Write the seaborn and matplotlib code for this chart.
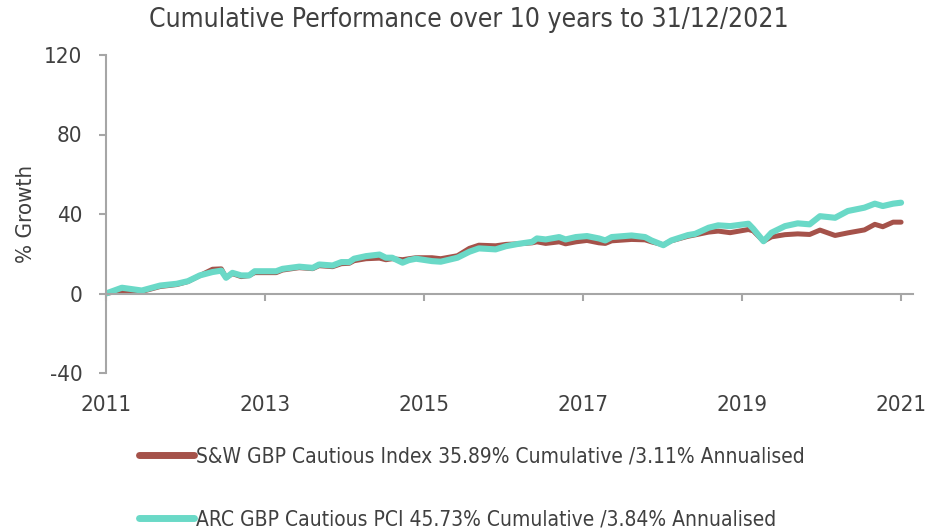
import matplotlib
matplotlib.use("Agg")
import matplotlib.pyplot as plt
import seaborn as sns
import pandas as pd

years = [2011.00, 2011.20, 2011.45, 2011.68, 2011.89, 2012.03, 2012.18, 2012.34, 2012.45, 2012.51,
         2012.59, 2012.70, 2012.80, 2012.87, 2013.14, 2013.22, 2013.43, 2013.60, 2013.68, 2013.85,
         2013.96, 2014.06, 2014.12, 2014.27, 2014.44, 2014.52, 2014.60, 2014.73, 2014.81, 2014.90,
         2015.10, 2015.21, 2015.42, 2015.57, 2015.69, 2015.90, 2016.03, 2016.19, 2016.36, 2016.42,
         2016.53, 2016.70, 2016.78, 2016.91, 2017.05, 2017.20, 2017.28, 2017.36, 2017.61, 2017.78,
         2017.86, 2018.01, 2018.11, 2018.32, 2018.41, 2018.58, 2018.70, 2018.85, 2019.08, 2019.14,
         2019.27, 2019.37, 2019.54, 2019.70, 2019.85, 2019.98, 2020.17, 2020.33, 2020.54, 2020.67,
         2020.77, 2020.90, 2021.00]

sw_index = [0.0, 1.5, 1.0, 3.5, 4.5, 6.0, 9.0, 12.2, 12.4, 8.0,
            10.0, 8.5, 9.0, 10.5, 10.5, 11.8, 13.0, 12.5, 14.0, 13.5,
            15.0, 15.2, 16.5, 17.5, 17.8, 17.0, 17.5, 17.0, 17.5, 18.0,
            18.0, 17.5, 19.0, 22.7, 24.3, 24.0, 24.7, 25.0, 25.5, 26.0,
            25.2, 26.0, 25.0, 26.0, 26.7, 25.5, 25.2, 26.5, 27.2, 27.0,
            26.0, 24.5, 26.5, 28.8, 29.5, 30.9, 31.4, 30.6, 32.2, 31.5,
            26.3, 28.5, 29.6, 30.0, 29.7, 31.9, 29.2, 30.5, 32.0, 34.8,
            33.6, 35.9, 35.9]

arc_pci = [0.0, 2.9, 1.5, 4.0, 4.9, 6.2, 9.1, 10.8, 11.5, 7.9,
           10.4, 9.1, 9.1, 11.2, 11.2, 12.4, 13.5, 12.9, 14.6, 14.1,
           15.8, 15.8, 17.5, 18.8, 19.6, 18.0, 18.0, 15.5, 16.8, 17.5,
           16.3, 16.0, 18.0, 21.0, 22.7, 22.2, 23.8, 25.0, 26.0, 27.7,
           27.2, 28.4, 27.2, 28.4, 28.9, 27.7, 26.7, 28.4, 29.2, 28.4,
           26.7, 24.3, 26.7, 29.4, 30.0, 33.1, 34.3, 33.9, 35.1, 32.6,
           26.3, 30.6, 33.9, 35.3, 34.8, 38.9, 38.1, 41.5, 43.2, 45.2,
           44.0, 45.2, 45.7]

sw_label = "S&W GBP Cautious Index 35.89% Cumulative /3.11% Annualised"
arc_label = "ARC GBP Cautious PCI 45.73% Cumulative /3.84% Annualised"
title = "Cumulative Performance over 10 years to 31/12/2021"
x_ticks = [2011, 2013, 2015, 2017, 2019, 2021]
y_ticks = [-40, 0, 40, 80, 120]

sns.set_theme(style="white")
plt.rcParams["font.family"] = ["DejaVu Sans"]
plt.rcParams["font.stretch"] = "condensed"
plt.rcParams["axes.unicode_minus"] = False

text_col = "#404040"
axis_col = "#a6a6a6"
red = "#A5524A"
cyan = "#6AD9C7"

df = pd.DataFrame({"year": years, "sw": sw_index, "arc": arc_pci})

fig = plt.figure(figsize=(9.29, 5.31), dpi=100)
ax = fig.add_axes([106 / 929, 1 - 373 / 531, (913 - 106) / 929, (373 - 55) / 531])

sns.lineplot(data=df, x="year", y="sw", ax=ax, color=red, linewidth=3.6, label=sw_label)
sns.lineplot(data=df, x="year", y="arc", ax=ax, color=cyan, linewidth=4.4, label=arc_label)

ax.set_xlim(2011, 2021.15)
ax.set_ylim(-40, 120)
ax.set_xticks(x_ticks)
ax.set_yticks(y_ticks)
ax.set_xticklabels([str(t) for t in x_ticks])
ax.set_xlabel("")
ax.set_ylabel("% Growth", fontsize=16, color=text_col, labelpad=6)

for s in ["top", "right"]:
    ax.spines[s].set_visible(False)
ax.spines["bottom"].set_position(("data", 0))
for s in ["left", "bottom"]:
    ax.spines[s].set_color(axis_col)
    ax.spines[s].set_linewidth(1.5)

ax.tick_params(axis="x", direction="out", length=5, width=1.5, color=axis_col,
               labelsize=16, labelcolor=text_col, pad=68, bottom=True)
ax.tick_params(axis="y", direction="out", length=5, width=1.5, color=axis_col,
               labelsize=16, labelcolor=text_col, pad=12, left=True)

fig.text(469 / 929, 1 - 20 / 531, title, ha="center", va="center",
         fontsize=19, color=text_col)

ax.get_legend().remove()
handles, labels = ax.get_legend_handles_labels()
leg = fig.legend(handles, labels, loc="upper left", bbox_to_anchor=(131 / 929, 1 - 438 / 531),
                 frameon=False, fontsize=15, labelspacing=2.05, handlelength=2.6,
                 handletextpad=0.1, borderaxespad=0)
for t in leg.get_texts():
    t.set_color(text_col)
for line in leg.get_lines():
    line.set_linewidth(5)

fig.savefig("out.png", dpi=100)
